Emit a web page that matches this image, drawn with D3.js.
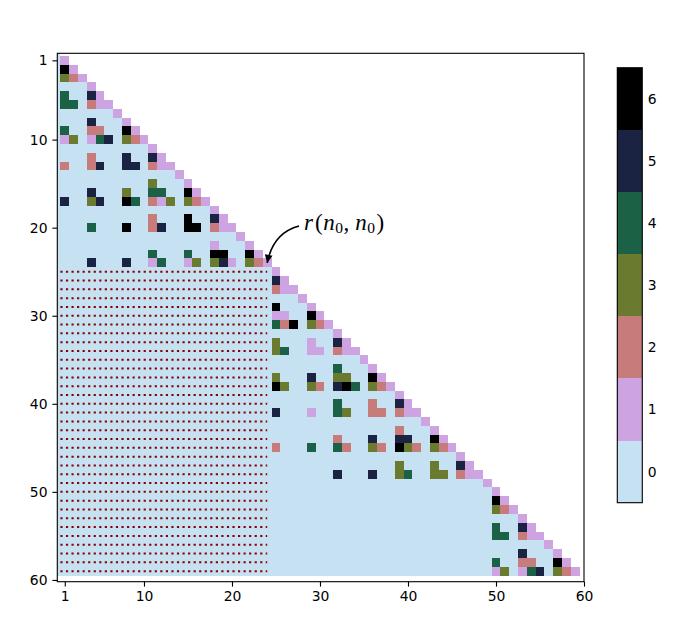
<!DOCTYPE html>
<html><head><meta charset="utf-8">
<script src="https://cdn.jsdelivr.net/npm/d3@7"></script>
<style>body{margin:0;background:#fff}svg{display:block}</style>
</head><body>
<svg id="c" width="699" height="642"></svg>
<script>
// ---------------- data ----------------
const N = 60;                                   // matrix size (index 0..59)
const levels = [0, 1, 2, 3, 4, 5, 6];           // colorbar levels
const axisTicks = [1, 10, 20, 30, 40, 50, 60];  // axis tick labels
const hatchRowRange = [25, 59];                 // dotted (masked) block rows
const hatchColRange = [1, 24];                  // dotted (masked) block cols
const annotTarget = [24, 24];                   // r(n0,n0)
// non-zero cells of each row of the lower triangle, "col:value"
const rowCells = [
 "",
 "1:1",
 "1:6 2:1",
 "1:3 2:2 3:1",
 "4:1",
 "1:4 4:5 5:1",
 "1:4 2:4 4:2 5:1 6:1",
 "7:1",
 "4:5 8:1",
 "1:4 4:2 5:2 8:6 9:1",
 "1:1 2:3 4:1 5:4 6:5 8:3 9:2 10:1",
 "11:1",
 "4:2 8:5 11:5 12:1",
 "1:2 4:2 5:5 8:5 9:5 11:2 12:1 13:1",
 "14:1",
 "11:3 15:1",
 "4:5 8:3 11:4 12:4 15:6 16:1",
 "1:5 4:3 5:5 8:6 9:4 11:2 12:1 13:3 15:3 16:2 17:1",
 "18:1",
 "11:2 15:6 18:5 19:1",
 "4:4 8:6 11:2 12:5 15:6 16:6 18:2 19:1 20:1",
 "21:1",
 "18:1 22:1",
 "11:4 15:4 18:6 19:6 22:6 23:1",
 "4:5 8:5 11:1 12:4 15:1 16:3 18:3 19:5 20:1 22:3 23:2 24:1",
 "25:1",
 "25:5 26:1",
 "25:2 26:1 27:1",
 "28:1",
 "25:6 29:1",
 "25:1 26:1 29:6 30:1",
 "25:4 26:2 27:6 29:3 30:2 31:1",
 "32:1",
 "25:3 29:1 32:5 33:1",
 "25:3 26:4 29:1 30:1 32:2 33:1 34:1",
 "35:1",
 "32:4 36:1",
 "25:3 29:5 32:3 33:3 36:6 37:1",
 "25:6 26:3 29:3 30:2 32:5 33:6 34:4 36:3 37:2 38:1",
 "39:1",
 "32:4 36:2 39:5 40:1",
 "25:5 29:1 32:4 33:3 36:2 37:2 39:2 40:1 41:1",
 "42:1",
 "39:2 43:1",
 "32:2 36:5 39:5 40:5 43:6 44:1",
 "25:2 29:4 32:4 33:2 36:3 37:2 39:6 40:3 41:2 43:3 44:2 45:1",
 "46:1",
 "39:3 43:3 46:5 47:1",
 "32:5 36:5 39:3 40:4 43:3 44:3 46:2 47:1 48:1",
 "49:1",
 "50:1",
 "50:6 51:1",
 "50:3 51:2 52:1",
 "53:1",
 "50:4 53:5 54:1",
 "50:4 51:4 53:2 54:1 55:1",
 "56:1",
 "53:5 57:1",
 "50:4 53:2 54:2 57:6 58:1",
 "50:1 51:3 53:1 54:4 55:5 57:3 58:2 59:1"
];

// ---------------- colormap (matplotlib cubehelix, 7 discrete levels) ----------------
function cubehelix(t) {
  const s = 0.5, r = -1.5, h = 1.0;
  const a = h * t * (1 - t) / 2, phi = 2 * Math.PI * (s / 3 + r * t);
  const c = Math.cos(phi), sn = Math.sin(phi);
  const cl = v => Math.round(255 * Math.max(0, Math.min(1, v)));
  return d3.rgb(cl(t + a * (-0.14861 * c + 1.78277 * sn)),
                cl(t + a * (-0.29227 * c - 0.90649 * sn)),
                cl(t + a * (1.97294 * c))).formatHex();
}
const color = d3.scaleOrdinal().domain(levels).range(levels.map(v => cubehelix((6 - v) / 7)));

// ---------------- build cell list ----------------
const cells = [];
rowCells.forEach((str, r) => {
  const m = new Map();
  str.split(" ").filter(Boolean).forEach(p => { const [c, v] = p.split(":").map(Number); m.set(c, v); });
  for (let c = 0; c <= r; c++) cells.push({ r, c, v: m.has(c) ? m.get(c) : 0 });
});

// ---------------- layout ----------------
const svg = d3.select("#c");
const L = 57.3, R = 584, T = 53.3, B = 581.7;
const x = d3.scaleLinear().domain([0.15, 60]).range([L, R]);
const y = d3.scaleLinear().domain([0.2, 60.2]).range([T, B]);

svg.append("clipPath").attr("id", "clip").append("rect")
  .attr("x", L).attr("y", T).attr("width", R - L).attr("height", B - T);

const plot = svg.append("g").attr("clip-path", "url(#clip)");
plot.selectAll("rect.cell").data(cells).join("rect")
  .attr("class", "cell")
  .attr("x", d => x(d.c - 0.5)).attr("y", d => y(d.r - 0.5))
  .attr("width", d => x(d.c + 0.5) - x(d.c - 0.5))
  .attr("height", d => y(d.r + 0.5) - y(d.r - 0.5))
  .attr("fill", d => color(d.v))
  .attr("shape-rendering", "crispEdges");

// dotted rows over the masked block
const hatchRows = d3.range(hatchRowRange[0], hatchRowRange[1] + 1);
plot.selectAll("line.hatch").data(hatchRows).join("line")
  .attr("class", "hatch")
  .attr("x1", x(hatchColRange[0] - 0.5)).attr("x2", x(hatchColRange[1]))
  .attr("y1", d => y(d)).attr("y2", d => y(d))
  .attr("stroke", "#8b0000").attr("stroke-width", 2)
  .attr("stroke-dasharray", "2.2,3.35");

// frame
svg.append("rect").attr("x", L).attr("y", T).attr("width", R - L).attr("height", B - T)
  .attr("fill", "none").attr("stroke", "#000").attr("stroke-width", 1.1);

// axes
const fontFam = "DejaVu Sans";
const xAxis = svg.append("g").attr("transform", `translate(0,${B})`)
  .call(d3.axisBottom(x).tickValues(axisTicks).tickSize(4.9).tickPadding(4.9).tickFormat(d3.format("d")));
const yAxis = svg.append("g").attr("transform", `translate(${L},0)`)
  .call(d3.axisLeft(y).tickValues(axisTicks).tickSize(4.9).tickPadding(4.9).tickFormat(d3.format("d")));
[xAxis, yAxis].forEach(g => {
  g.select(".domain").remove();
  g.selectAll("line").attr("stroke", "#000").attr("stroke-width", 1.1);
  g.selectAll("text").attr("font-family", fontFam).attr("font-size", 13.9).attr("fill", "#000");
});

// colorbar
const cbL = 617.3, cbW = 25, cbT = 67.7, cbB = 502.7;
const cy = d3.scaleLinear().domain([-0.5, 6.5]).range([cbB, cbT]);
svg.selectAll("rect.cb").data(levels).join("rect")
  .attr("class", "cb")
  .attr("x", cbL).attr("width", cbW)
  .attr("y", d => cy(d + 0.5)).attr("height", d => cy(d - 0.5) - cy(d + 0.5))
  .attr("fill", d => color(d)).attr("shape-rendering", "crispEdges");
svg.append("rect").attr("x", cbL).attr("y", cbT).attr("width", cbW).attr("height", cbB - cbT)
  .attr("fill", "none").attr("stroke", "#000").attr("stroke-width", 1.1);
const cbAxis = svg.append("g").attr("transform", `translate(${cbL + cbW},0)`)
  .call(d3.axisRight(cy).tickValues(levels).tickSize(0).tickPadding(5.5).tickFormat(d3.format("d")));
cbAxis.select(".domain").remove();
cbAxis.selectAll("text").attr("font-family", fontFam).attr("font-size", 13.9).attr("fill", "#000");

// annotation
const tip = [x(annotTarget[1]), y(annotTarget[0])];
const start = [299, 226];
svg.append("defs").append("marker").attr("id", "ah")
  .attr("viewBox", "0 0 10 10").attr("refX", 10).attr("refY", 5)
  .attr("markerWidth", 11).attr("markerHeight", 8).attr("markerUnits", "userSpaceOnUse")
  .attr("orient", "auto")
  .append("path").attr("d", "M0,0 L10,5 L0,10 Z").attr("fill", "#000");
const path = d3.path();
path.moveTo(start[0], start[1]);
path.quadraticCurveTo(273, 233, tip[0], tip[1]);
svg.append("path").attr("d", path.toString()).attr("fill", "none")
  .attr("stroke", "#000").attr("stroke-width", 1.6).attr("marker-end", "url(#ah)");

const t = svg.append("text").attr("x", 304).attr("y", 229.5)
  .attr("font-family", "Liberation Serif").attr("font-size", 23).attr("fill", "#000");
t.append("tspan").attr("font-style", "italic").text("r");
t.append("tspan").attr("dx", 2).text("(");
t.append("tspan").attr("dx", 0.5).attr("font-style", "italic").text("n");
t.append("tspan").attr("font-size", 15.5).attr("dy", 3.5).attr("dx", 0.5).text("0");
t.append("tspan").attr("dy", -3.5).attr("dx", 0.5).text(",");
t.append("tspan").attr("dx", 6).attr("font-style", "italic").text("n");
t.append("tspan").attr("font-size", 15.5).attr("dy", 3.5).attr("dx", 0.5).text("0");
t.append("tspan").attr("dy", -3.5).attr("dx", 1.5).text(")");
</script>
</body></html>
